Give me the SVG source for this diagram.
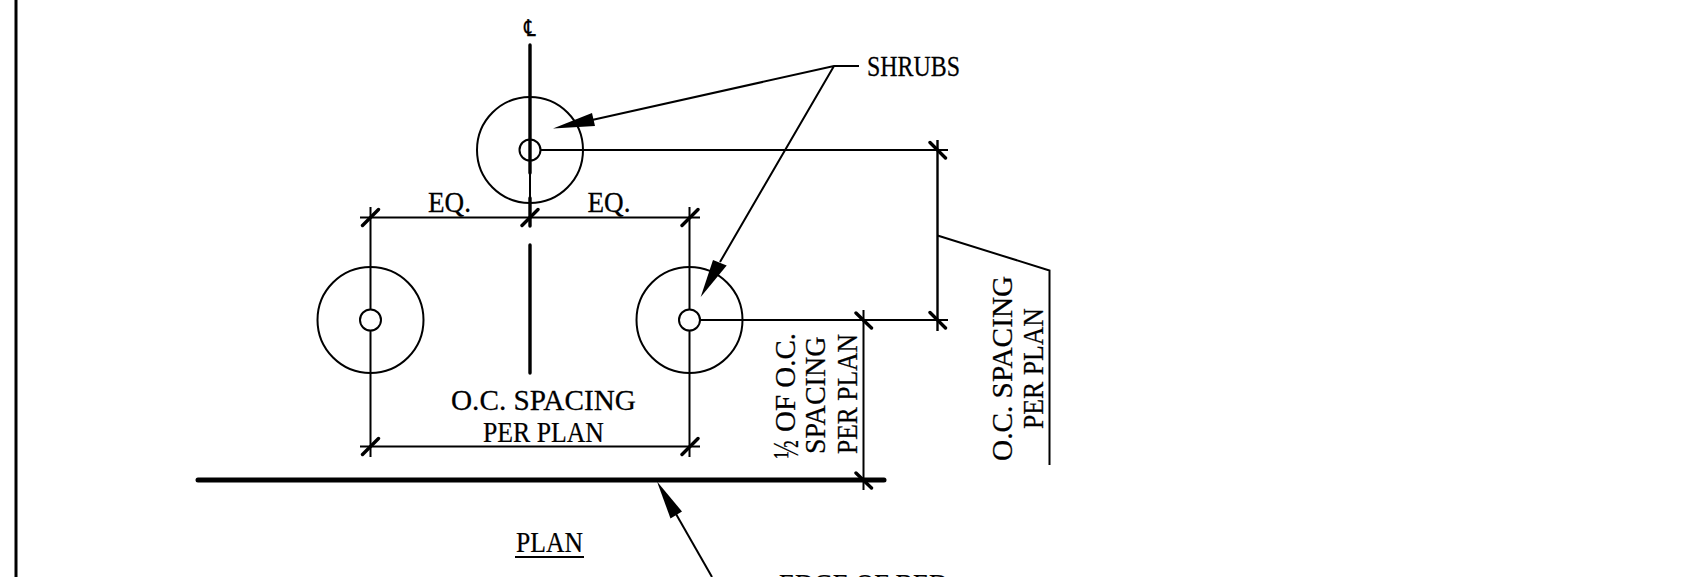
<svg xmlns="http://www.w3.org/2000/svg" width="1697" height="577" viewBox="0 0 1697 577">
<style>
.l{fill:none;stroke:#000;stroke-width:2}
.t{fill:none;stroke:#000;stroke-width:3}
.k{fill:none;stroke:#000;stroke-width:3.400;stroke-linecap:round}
.a{fill:#000;stroke:none}
text{font-family:"Liberation Serif","Times New Roman",serif;font-size:29px;fill:#000;stroke:#000;stroke-width:.25}
</style>
<rect width="1697" height="577" fill="#fff"/>
<g id="connectors">
<path class="t" d="M16 0V577"/>
<path class="k" d="M530 45V173M530 198V226M530 245V373"/>
<path d="M198 480H884" fill="none" stroke="#000" stroke-width="5" stroke-linecap="round"/>
<path class="l" d="M530 173V227"/>
<path class="l" d="M360 217.500H700M360 446.500H700"/>
<path class="l" d="M370.500 207V310M370.500 330V457M689.500 207V310M689.500 330V457"/>
<path class="l" d="M700 320H948M540.500 150H948"/>
<path class="l" d="M863.500 310V490"/>
<path class="l" style="stroke-width:2.400" d="M937.500 140V331"/>
<path class="k" d="M362.500 225.500L378.500 209.500M522 225.500L538 209.500M682 225.500L698 209.500M362.500 454.500L378.500 438.500M682 454.500L698 438.500"/>
<path class="k" d="M856 313L871.500 328M856 473L871.500 488M930 142.500L945.500 158M930 312.500L945.500 328"/>
<path class="l" d="M937.500 235.500L1049.500 270.500V465"/>
<path class="l" d="M859 66H834L592 120M834 66L720 262"/>
<path class="l" d="M676 514L712 577"/>
<path class="a" d="M553 128.500L592 113L595 126Z"/>
<path class="a" d="M700.700 297L713 260L726.700 265.500Z"/>
<path class="a" d="M657 481.500L682 511.500L670.500 518.500Z"/>
<path class="l" d="M515 557H584"/>
</g>
<g id="shrub-top"><circle class="l" cx="530" cy="150" r="53"/><circle class="l" cx="530" cy="150" r="10.500"/></g>
<g id="shrub-left"><circle class="l" cx="370.500" cy="320" r="53"/><circle class="l" cx="370.500" cy="320" r="10.500"/></g>
<g id="shrub-right"><circle class="l" cx="689.500" cy="320" r="53"/><circle class="l" cx="689.500" cy="320" r="10.500"/></g>
<g id="labels">
<text transform="translate(524 36) scale(.8 1)" style="font-family:'DejaVu Sans',sans-serif;font-size:23px">℄</text>
<text transform="translate(428 212) scale(.937 1)">EQ.</text>
<text transform="translate(587.500 212) scale(.937 1)">EQ.</text>
<text transform="translate(867 76) scale(.824 1)">SHRUBS</text>
<text transform="translate(451 410) scale(1.008 1)">O.C. SPACING</text>
<text transform="translate(483 442) scale(.889 1)">PER PLAN</text>
<text transform="translate(516 552) scale(.885 1)">PLAN</text>
<text transform="translate(779 594) scale(.904 1)">EDGE OF BED</text>
<text transform="translate(798 458.500) rotate(-90) scale(.7 1)" style="font-size:35px">½</text>
<text transform="translate(795 432) rotate(-90)">OF O.C.</text>
<text transform="translate(825 454) rotate(-90) scale(.968 1)">SPACING</text>
<text transform="translate(857 454) rotate(-90) scale(.882 1)">PER PLAN</text>
<text transform="translate(1011.500 461) rotate(-90) scale(1.01 1)">O.C. SPACING</text>
<text transform="translate(1043 429) rotate(-90) scale(.889 1)">PER PLAN</text>
</g>
</svg>
